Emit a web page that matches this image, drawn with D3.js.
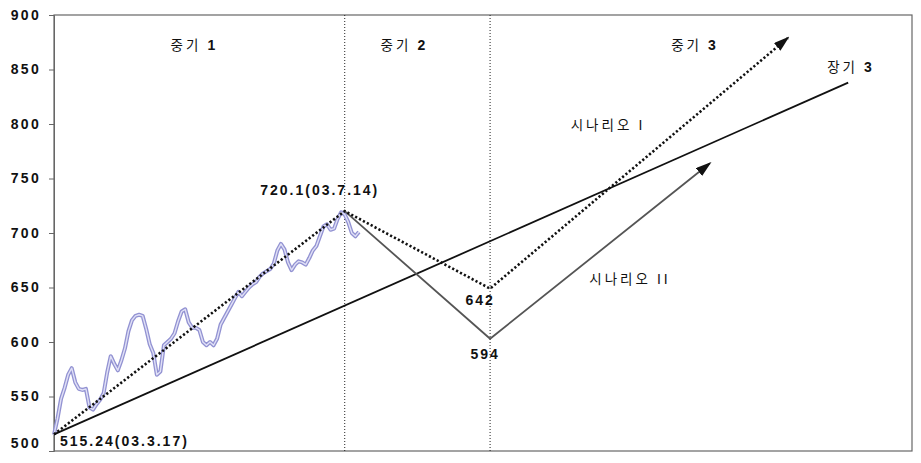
<!DOCTYPE html>
<html>
<head>
<meta charset="utf-8">
<script src="https://cdn.jsdelivr.net/npm/d3@7"></script>
<style>
  body { margin: 0; background: #fff; }
  .tick text { font-family: "Liberation Sans", Arial, sans-serif; font-weight: bold; font-size: 14px; letter-spacing: 2.3px; fill: #111; }
  .num { font-family: "Liberation Sans", Arial, sans-serif; font-weight: bold; font-size: 14px; letter-spacing: 2px; fill: #111; }
  .kor { font-family: "Noto Sans CJK KR", sans-serif; font-size: 13.5px; letter-spacing: 3px; fill: #111; }
</style>
</head>
<body>
<svg id="chart" width="921" height="463"></svg>
<script>
// daily index values, 03.3.17 (day 0) .. a few days after 03.7.14 (day 82)
const indexValues = [515, 530, 548, 558, 570, 576, 563, 557, 556, 557,
  540, 538, 543, 547, 553, 572, 587, 580, 574, 583,
  594, 610, 620, 624, 625, 624, 612, 598, 590, 570,
  573, 597, 600, 603, 608, 619, 628, 630, 618, 613,
  613, 611, 600, 597, 600, 597, 603, 616, 622, 628,
  634, 640, 646, 642, 646, 650, 653, 655, 660, 663,
  665, 667, 672, 684, 690, 685, 673, 666, 671, 674,
  673, 671, 677, 684, 688, 697, 706, 708, 703, 704,
  713, 719, 717, 710, 700, 697, 701]

// trend lines: day positions and values
const longDays = [0, 224]
const longValues = [515.24, 838]
const scen1Days = [0, 82, 123, 207]
const scen1Values = [515.24, 720.1, 649, 879]
const scen2Days = [82, 123, 185]
const scen2Values = [720.1, 603, 764]

// period boundaries (days)
const splitDays = [82, 123]
const yTicks = [500, 550, 600, 650, 700, 750, 800, 850, 900]

const width = 921, height = 463
const margin = {left: 54, top: 15, right: 9, bottom: 12}

let svg = d3.select("#chart")
let xScale = d3.scaleLinear().domain([0, 242]).range([margin.left, width - margin.right])
let yScale = d3.scaleLinear().domain([500, 900]).range([height - margin.bottom, margin.top])

// arrow head
svg.append("defs").append("marker")
    .attr("id", "arrow")
    .attr("markerUnits", "userSpaceOnUse")
    .attr("markerWidth", 16).attr("markerHeight", 10)
    .attr("refX", 14).attr("refY", 5)
    .attr("orient", "auto")
    .append("path")
    .attr("d", "M0,0 L16,5 L0,10 Z")
    .attr("fill", "#111")

// frame
svg.append("rect")
    .attr("x", margin.left).attr("y", margin.top)
    .attr("width", width - margin.left - margin.right)
    .attr("height", height - margin.top - margin.bottom)
    .attr("fill", "none").attr("stroke", "#666").attr("stroke-width", 1.2)

// y axis
let yAxis = d3.axisLeft(yScale).tickValues(yTicks).tickSize(5).tickPadding(8)
let gy = svg.append("g").attr("transform", `translate(${margin.left},0)`).call(yAxis)
gy.select(".domain").attr("stroke", "#666")
gy.selectAll(".tick line").attr("stroke", "#666")
gy.selectAll(".tick text").filter(d => d === 500).attr("dy", "-0.25em")

// period split lines
svg.selectAll(".split")
    .data(splitDays)
    .enter()
    .append("line")
    .attr("x1", d => xScale(d)).attr("x2", d => xScale(d))
    .attr("y1", margin.top).attr("y2", height - margin.bottom)
    .attr("stroke", "#222").attr("stroke-width", 1)
    .attr("stroke-dasharray", "1,2")

let line = d3.line().x(d => xScale(d[0])).y(d => yScale(d[1]))
let indexPts = indexValues.map((v, i) => [i, v])

// index line (hollow purple-blue look)
svg.append("path").datum(indexPts).attr("d", line)
    .attr("fill", "none").attr("stroke", "#9292d2").attr("stroke-width", 4)
    .attr("stroke-linejoin", "round")
svg.append("path").datum(indexPts).attr("d", line)
    .attr("fill", "none").attr("stroke", "#e0e0f6").attr("stroke-width", 1.4)
    .attr("stroke-linejoin", "round")

// long-term trend
svg.append("path").datum(longDays.map((d, i) => [d, longValues[i]])).attr("d", line)
    .attr("fill", "none").attr("stroke", "#111").attr("stroke-width", 1.8)

// scenario II (gray solid, arrow)
svg.append("path").datum(scen2Days.map((d, i) => [d, scen2Values[i]])).attr("d", line)
    .attr("fill", "none").attr("stroke", "#555").attr("stroke-width", 1.8)
    .attr("marker-end", "url(#arrow)")

// scenario I (dotted, arrow)
svg.append("path").datum(scen1Days.map((d, i) => [d, scen1Values[i]])).attr("d", line)
    .attr("fill", "none").attr("stroke", "#111").attr("stroke-width", 2.6)
    .attr("stroke-dasharray", "2.2,2.2")
    .attr("marker-end", "url(#arrow)")

// number labels
svg.append("text").attr("class", "num")
    .attr("x", xScale(82) - 25).attr("y", yScale(720.1) - 16)
    .attr("text-anchor", "middle").text("720.1(03.7.14)")
svg.append("text").attr("class", "num")
    .attr("x", xScale(0) + 6).attr("y", height - margin.bottom - 5)
    .text("515.24(03.3.17)")
svg.append("text").attr("class", "num")
    .attr("x", xScale(123) - 10).attr("y", yScale(649) + 16)
    .attr("text-anchor", "middle").text("642")
svg.append("text").attr("class", "num")
    .attr("x", xScale(123) - 5).attr("y", yScale(603) + 20)
    .attr("text-anchor", "middle").text("594")

// korean labels
function korLabel(x, y, main, tail, spacing) {
    let t = svg.append("text").attr("class", "kor")
        .attr("x", x).attr("y", y).attr("text-anchor", "middle")
    if (spacing) t.attr("letter-spacing", spacing)
    t.append("tspan").text(main)
    t.append("tspan").attr("font-family", "Liberation Sans, Arial, sans-serif")
        .attr("font-weight", tail.startsWith("I") ? "normal" : "bold")
        .attr("font-size", "14px").text(tail)
}
korLabel((xScale(0) + xScale(82)) / 2 - 5, 50, "중기 ", "1")
korLabel((xScale(82) + xScale(123)) / 2 - 13, 50, "중기 ", "2")
korLabel(695, 50, "중기 ", "3")
korLabel(851, 72, "장기 ", "3")
korLabel(608, 130, "시나리오 ", "I", "6px")
korLabel(630, 284, "시나리오 ", "II", "5px")
</script>
</body>
</html>
